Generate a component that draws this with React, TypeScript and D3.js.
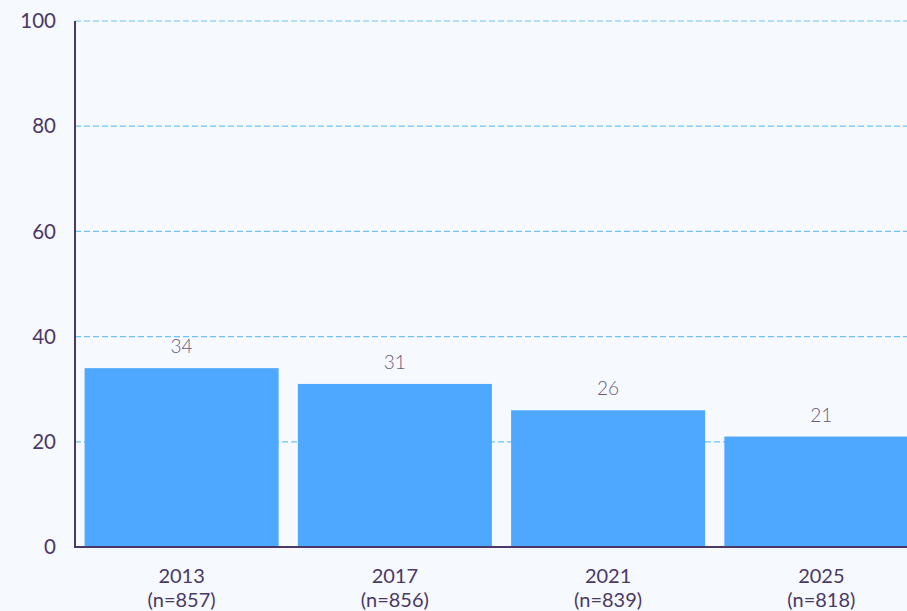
import React from "react";
import * as d3 from "d3";

const categories = ["2013", "2017", "2021", "2025"];
const sampleSizes = ["(n=857)", "(n=856)", "(n=839)", "(n=818)"];
const values = [34, 31, 26, 21];
const yTicks = [0, 20, 40, 60, 80, 100];

export default function App() {
  const W = 907;
  const H = 611;
  const left = 75;
  const top = 21;
  const bottom = 547;
  const x = d3
    .scaleBand<string>()
    .domain(categories)
    .range([left, 928])
    .paddingInner(0.09)
    .paddingOuter(0.045);
  const y = d3.scaleLinear().domain([0, 100]).range([bottom, top]);
  const axisColor = "#4a3868";
  const font = "Lato, 'Open Sans', sans-serif";

  return (
    <svg
      width={W}
      height={H}
      style={{ position: "fixed", left: 0, top: 0, background: "#f6f9fe" }}
    >
      <rect x={0} y={0} width={W} height={H} fill="#f6f9fe" />
      {yTicks
        .filter((t) => t > 0)
        .map((t) => (
          <line
            key={"g" + t}
            x1={left}
            x2={W}
            y1={y(t)}
            y2={y(t)}
            stroke="#6cc3f8"
            strokeWidth={1.2}
            strokeDasharray="6,3"
          />
        ))}
      {categories.map((c, i) => (
        <rect
          key={"b" + c}
          x={x(c)}
          y={y(values[i])}
          width={x.bandwidth()}
          height={bottom - y(values[i])}
          fill="#4fa8ff"
        />
      ))}
      {categories.map((c, i) => (
        <text
          key={"v" + c}
          x={(x(c) as number) + x.bandwidth() / 2}
          y={y(values[i]) - 15}
          textAnchor="middle"
          fontFamily={font}
          fontWeight={300}
          fontSize={19}
          fill="#6a5a80"
        >
          {values[i]}
        </text>
      ))}
      <line x1={left} x2={left} y1={top} y2={bottom} stroke={axisColor} strokeWidth={2} />
      <line x1={left - 1} x2={W} y1={bottom} y2={bottom} stroke={axisColor} strokeWidth={2} />
      {yTicks.map((t) => (
        <text
          key={"t" + t}
          x={56}
          y={y(t)}
          dy="0.35em"
          textAnchor="end"
          fontFamily={font}
          fontSize={20.5}
          fill={axisColor}
        >
          {t}
        </text>
      ))}
      {categories.map((c, i) => (
        <g key={"x" + c}>
          <text
            x={(x(c) as number) + x.bandwidth() / 2}
            y={582.5}
            textAnchor="middle"
            fontFamily={font}
            fontSize={20}
            fill={axisColor}
          >
            {c}
          </text>
          <text
            x={(x(c) as number) + x.bandwidth() / 2}
            y={606.5}
            textAnchor="middle"
            fontFamily={font}
            fontSize={20}
            fill={axisColor}
          >
            {sampleSizes[i]}
          </text>
        </g>
      ))}
    </svg>
  );
}
